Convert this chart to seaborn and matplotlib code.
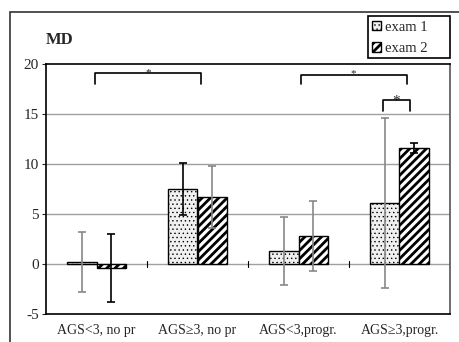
import matplotlib
matplotlib.use("Agg")
import matplotlib.pyplot as plt
import matplotlib.patches as mpatches
import pandas as pd
import seaborn as sns

# data
groups = ["AGS<3, no pr", "AGS≥3, no pr", "AGS<3,progr.", "AGS≥3,progr."]
exams = ["exam 1", "exam 2"]
md_exam1 = [0.2, 7.5, 1.35, 6.1]
md_exam2 = [-0.4, 6.7, 2.8, 11.6]
err_exam1 = [3.0, 2.6, 3.4, 8.5]
err_exam2 = [3.4, 3.1, 3.5, 0.5]
yticks = [-5, 0, 5, 10, 15, 20]

df = pd.DataFrame({
    "group": groups * 2,
    "exam": [exams[0]] * 4 + [exams[1]] * 4,
    "MD": md_exam1 + md_exam2,
})

sns.set_style("white")
plt.rcParams["font.family"] = ["Liberation Serif", "DejaVu Serif"]
plt.rcParams["hatch.linewidth"] = 2.0

fig = plt.figure(figsize=(4.6, 3.42), dpi=100)
ax = fig.add_axes([46 / 460, 1 - 314 / 342, 404 / 460, 250 / 342])

sns.barplot(data=df, x="group", y="MD", hue="exam", order=groups,
            hue_order=exams, width=0.58, errorbar=None, ax=ax,
            edgecolor="black", linewidth=1.0, legend=False, zorder=3)

hatches = ["....", "////"]
faces = ["#f0f0f0", "white"]
hatch_lw = [0.5, 2.0]
errs = [err_exam1, err_exam2]
err_cols = [["#888888", "black", "#888888", "#888888"],
            ["black", "#888888", "#888888", "black"]]


def style_patch(p, k):
    p.set_hatch(hatches[k])
    p.set_facecolor(faces[k])
    p.set_edgecolor("black")
    if hasattr(p, "set_hatch_linewidth"):
        p.set_hatch_linewidth(hatch_lw[k])


bar_conts = list(ax.containers)
for k, cont in enumerate(bar_conts):
    for i, bar in enumerate(cont):
        style_patch(bar, k)
        xc = bar.get_x() + bar.get_width() / 2
        ax.errorbar(xc, bar.get_height(), yerr=errs[k][i], fmt="none",
                    ecolor=err_cols[k][i], elinewidth=1.2, capsize=3,
                    capthick=1.2, zorder=4)

ax.set_ylim(-5, 20)
ax.set_xlim(-0.5, 3.5)
ax.set_yticks(yticks)
ax.set_yticklabels([str(t) for t in yticks], fontsize=11)
for t in [0, 5, 10, 15]:
    ax.axhline(t, color="#a0a0a0", lw=1.0, zorder=1)
for xb in [0.5, 1.5, 2.5]:
    ax.plot([xb, xb], [-0.3, 0.3], color="black", lw=0.8, zorder=2)
ax.tick_params(axis="y", length=3, direction="out", left=True, pad=2)
ax.tick_params(axis="x", length=0, pad=7, labelsize=10)
ax.set_xlabel("")
ax.set_ylabel("")
for s in ax.spines.values():
    s.set_linewidth(1.2)
    s.set_color("black")
ax.spines["right"].set_color("#555555")


# significance brackets
def bracket(x0, x1, ytop, ybot, ystar, size):
    ax.plot([x0, x0, x1, x1], [ybot, ytop, ytop, ybot], color="black",
            lw=1.2, clip_on=False, zorder=5)
    ax.text((x0 + x1) / 2, ystar, "*", ha="center", va="baseline",
            fontsize=size)


bracket(-0.01, 1.03, 19.1, 18.0, 18.9, 8)
bracket(2.02, 3.07, 18.9, 18.0, 18.8, 8)
bracket(2.84, 3.1, 16.4, 15.3, 15.9, 11)

fig.text(46 / 460, 1 - 40 / 342, "MD", fontsize=12, fontweight="bold",
         ha="left", va="center")

# legend box drawn as its own frame
fig.patches.append(mpatches.Rectangle((368 / 460, 1 - 58 / 342), 82 / 460, 42 / 342,
                                      transform=fig.transFigure, fill=True,
                                      facecolor="white", edgecolor="black",
                                      lw=1.2, zorder=5))
handles = [mpatches.Patch(facecolor=faces[k], edgecolor="black",
                          hatch=hatches[k], label=exams[k]) for k in range(2)]
leg = fig.legend(handles=handles, loc="upper left",
                 bbox_to_anchor=(372 / 460, 1 - 21 / 342), frameon=False,
                 fontsize=10.5, handlelength=0.6, handleheight=0.6,
                 handletextpad=0.3, borderpad=0.0, labelspacing=0.55,
                 borderaxespad=0)
leg.set_zorder(6)
for k, h in enumerate(leg.legend_handles):
    style_patch(h, k)

# outer frame
fig.patches.append(mpatches.Rectangle((10 / 460, -0.1), 1.0, 1 - 12 / 342 + 0.1,
                                      transform=fig.transFigure, fill=False,
                                      edgecolor="#333333", lw=1.2))

fig.savefig("out.png", dpi=100)
